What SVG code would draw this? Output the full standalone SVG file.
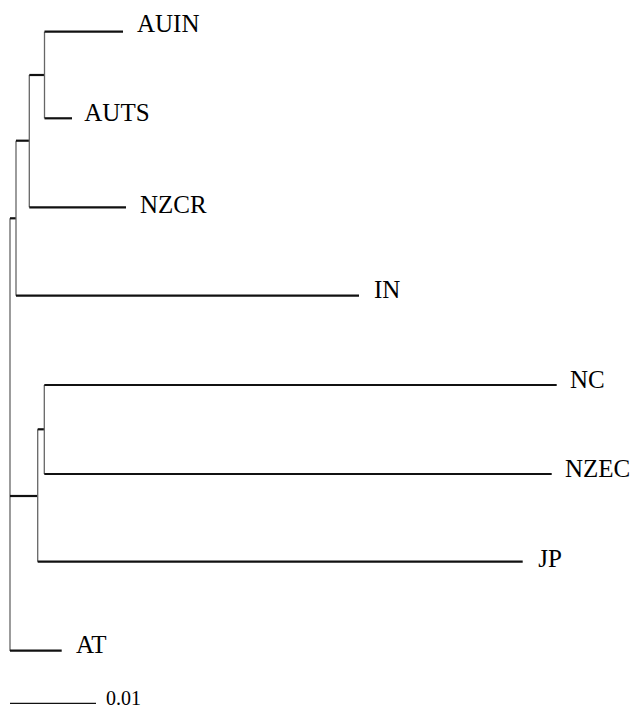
<svg xmlns="http://www.w3.org/2000/svg" width="633" height="709" viewBox="0 0 633 709">
<style>
.h{stroke:#111;stroke-width:2.2;fill:none}
.v{stroke:#666;stroke-width:1.3;fill:none}
.lbl{font-size:25px;fill:#000}
.scale{font-size:20px;fill:#000}
</style>
<rect width="633" height="709" fill="#ffffff"/>
<g id="connectors">
  <line class="v" x1="10" y1="218.3" x2="10" y2="651"/>
  <line class="h" x1="10" y1="218.3" x2="16" y2="218.3"/>
  <line class="v" x1="16" y1="140.7" x2="16" y2="295.7"/>
  <line class="h" x1="16" y1="295.7" x2="359" y2="295.7"/>
  <line class="h" x1="16" y1="140.7" x2="29.3" y2="140.7"/>
  <line class="v" x1="29.3" y1="75" x2="29.3" y2="207.3"/>
  <line class="h" x1="29.3" y1="207.3" x2="126" y2="207.3"/>
  <line class="h" x1="29.3" y1="75" x2="44.5" y2="75"/>
  <line class="v" x1="44.5" y1="31.7" x2="44.5" y2="118.3"/>
  <line class="h" x1="44.5" y1="31.7" x2="123" y2="31.7"/>
  <line class="h" x1="44.5" y1="118.3" x2="72" y2="118.3"/>
  <line class="h" x1="10" y1="496" x2="37.7" y2="496"/>
  <line class="v" x1="37.7" y1="429.3" x2="37.7" y2="561.7"/>
  <line class="h" x1="37.7" y1="561.7" x2="522.7" y2="561.7"/>
  <line class="h" x1="37.7" y1="429.3" x2="44.3" y2="429.3"/>
  <line class="v" x1="44.3" y1="385" x2="44.3" y2="474"/>
  <line class="h" x1="44.3" y1="385" x2="556.7" y2="385"/>
  <line class="h" x1="44.3" y1="474" x2="551.7" y2="474"/>
  <line class="h" x1="10" y1="650.7" x2="61.7" y2="650.7"/>
</g>
<g font-family="Liberation Serif, Times New Roman, serif">
<g id="AUIN"><text class="lbl" x="137" y="32.3">AUIN</text></g>
<g id="AUTS"><text class="lbl" x="84.3" y="120.7">AUTS</text></g>
<g id="NZCR"><text class="lbl" x="140" y="213">NZCR</text></g>
<g id="IN"><text class="lbl" x="374" y="298">IN</text></g>
<g id="NC"><text class="lbl" x="570" y="388.3">NC</text></g>
<g id="NZEC"><text class="lbl" x="565" y="476.7">NZEC</text></g>
<g id="JP"><text class="lbl" x="538.3" y="567.3">JP</text></g>
<g id="AT"><text class="lbl" x="76" y="653.3">AT</text></g>
<g id="scalebar">
  <line x1="10" y1="703.3" x2="96" y2="703.3" stroke="#111" stroke-width="1.3"/>
  <text class="scale" x="106" y="704.5">0.01</text>
</g>
</g>
</svg>
